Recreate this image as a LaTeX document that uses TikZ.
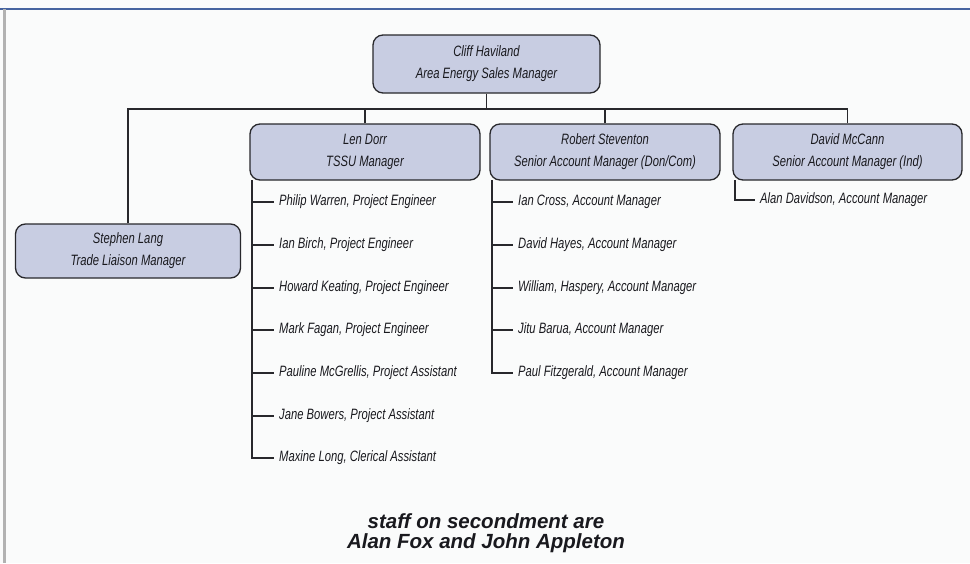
\documentclass[tikz,border=0pt]{standalone}
\usepackage{fontspec}
\setmainfont{Liberation Sans}
\newfontfamily\condfont[FakeStretch=0.75]{Liberation Sans}
\definecolor{boxfill}{RGB}{200,205,226}
\definecolor{linegray}{RGB}{40,40,44}
\definecolor{txt}{RGB}{25,25,30}
\definecolor{topblue}{RGB}{70,100,160}
\definecolor{bg}{RGB}{250,251,251}
\begin{document}
\begin{tikzpicture}[x=1pt,y=-1pt,
  box/.style={draw=linegray, line width=1.3pt, rounded corners=10pt, fill=boxfill,
    inner sep=0pt, align=center, text=txt,
    font=\condfont\itshape\fontsize{15}{22}\selectfont},
  item/.style={anchor=west, inner ysep=0pt, inner xsep=5pt, text=txt,
    font=\condfont\itshape\fontsize{15}{17}\selectfont},
  link/.style={draw=linegray, line width=1.2pt},
  note/.style={text=txt, inner sep=0pt, align=center, font=\bfseries\itshape\fontsize{20.5}{20}\selectfont}]
\useasboundingbox (0,0) rectangle (970,563);
\fill[bg] (0,0) rectangle (970,563);
\draw[topblue, line width=2pt] (0,9) -- (970,9);
\draw[black!30, line width=3pt] (4,9) -- (4,563);

% boxes
\node[box, minimum width=227pt, minimum height=58pt] (cliff) at (486.5,64) {Cliff Haviland\\Area Energy Sales Manager};
\node[box, minimum width=230pt, minimum height=56pt] (len) at (365,152) {Len Dorr\\TSSU Manager};
\node[box, minimum width=230pt, minimum height=56pt] (rob) at (605,152) {Robert Steventon\\Senior Account Manager (Don/Com)};
\node[box, minimum width=229pt, minimum height=56pt] (dav) at (847.5,152) {David McCann\\Senior Account Manager (Ind)};
\node[box, minimum width=225pt, minimum height=54pt] (ste) at (128,251) {Stephen Lang\\Trade Liaison Manager};

% top-level connectors
\coordinate (bus) at (486.5,109);
\draw[link] (cliff.south) -- (bus);
\draw[link] (ste.north) |- (bus);
\draw[link] (dav.north) |- (bus);
\draw[link] (len.north) -- (len.north |- bus);
\draw[link] (rob.north) -- (rob.north |- bus);

% Len's staff
\coordinate (lbar) at (252,180);
\node[item] (l1) at (274,202) {Philip Warren, Project Engineer};
\node[item] (l2) at (274,245) {Ian Birch, Project Engineer};
\node[item] (l3) at (274,288) {Howard Keating, Project Engineer};
\node[item] (l4) at (274,330) {Mark Fagan, Project Engineer};
\node[item] (l5) at (274,373) {Pauline McGrellis, Project Assistant};
\node[item] (l6) at (274,416) {Jane Bowers, Project Assistant};
\node[item] (l7) at (274,458) {Maxine Long, Clerical Assistant};
\draw[link] (lbar) |- (l7.west);
\foreach \i in {1,...,6} \draw[link] (l\i.west -| lbar) -- (l\i.west);

% Robert's staff
\coordinate (rbar) at (492,180);
\node[item] (r1) at (513,202) {Ian Cross, Account Manager};
\node[item] (r2) at (513,245) {David Hayes, Account Manager};
\node[item] (r3) at (513,288) {William, Haspery, Account Manager};
\node[item] (r4) at (513,330) {Jitu Barua, Account Manager};
\node[item] (r5) at (513,373) {Paul Fitzgerald, Account Manager};
\draw[link] (rbar) |- (r5.west);
\foreach \i in {1,...,4} \draw[link] (r\i.west -| rbar) -- (r\i.west);

% David's staff
\coordinate (dbar) at (735,180);
\node[item] (d1) at (755,200) {Alan Davidson, Account Manager};
\draw[link] (dbar) |- (d1.west);

% note
\node[note] (note) at (486,533) {staff on secondment are\\Alan Fox and John Appleton};
\end{tikzpicture}
\end{document}
